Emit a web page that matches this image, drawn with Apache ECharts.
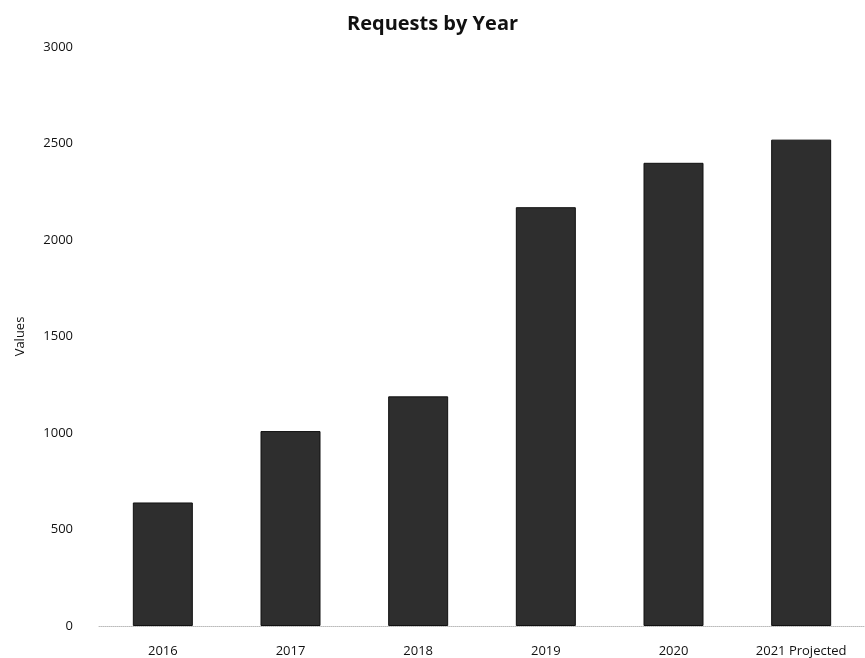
<!DOCTYPE html>
<html>
<head>
<meta charset="utf-8">
<script src="https://cdn.jsdelivr.net/npm/echarts@6/dist/echarts.min.js"></script>
<style>
  html, body { margin: 0; padding: 0; background: #fff; }
  #chart { width: 865px; height: 658px; }
</style>
</head>
<body>
<div id="chart"></div>
<script>
const categories = ['2016', '2017', '2018', '2019', '2020', '2021 Projected'];
const requests = [640, 1010, 1190, 2170, 2400, 2520];
const yTicks = { min: 0, max: 3000, interval: 500 };

const chart = echarts.init(document.getElementById('chart'));
chart.setOption({
  animation: false,
  backgroundColor: '#ffffff',
  title: {
    text: 'Requests by Year',
    left: 'center',
    top: 9,
    textStyle: { fontFamily: 'Open Sans', fontWeight: 'bold', fontSize: 20, color: '#111' }
  },
  grid: { left: 99, top: 47, width: 770, height: 582, containLabel: false },
  xAxis: {
    type: 'category',
    data: categories,
    axisLine: { show: true, lineStyle: { color: '#bbb', type: 'dotted', width: 1 } },
    axisTick: { show: false },
    axisLabel: { margin: 19, fontFamily: 'Open Sans', fontSize: 13, color: '#111' }
  },
  yAxis: {
    type: 'value',
    min: yTicks.min, max: yTicks.max, interval: yTicks.interval,
    name: 'Values',
    nameLocation: 'middle',
    nameGap: 72,
    nameTextStyle: { fontFamily: 'Open Sans', fontSize: 13, color: '#111' },
    axisLine: { show: false },
    axisTick: { show: false },
    splitLine: { show: false },
    axisLabel: { margin: 26, fontFamily: 'Open Sans', fontSize: 13, color: '#111', formatter: v => String(v) }
  },
  series: [{
    type: 'bar',
    data: requests,
    barWidth: 60,
    itemStyle: { color: '#2e2e2e', borderColor: '#111', borderWidth: 1 }
  }]
});
</script>
</body>
</html>
